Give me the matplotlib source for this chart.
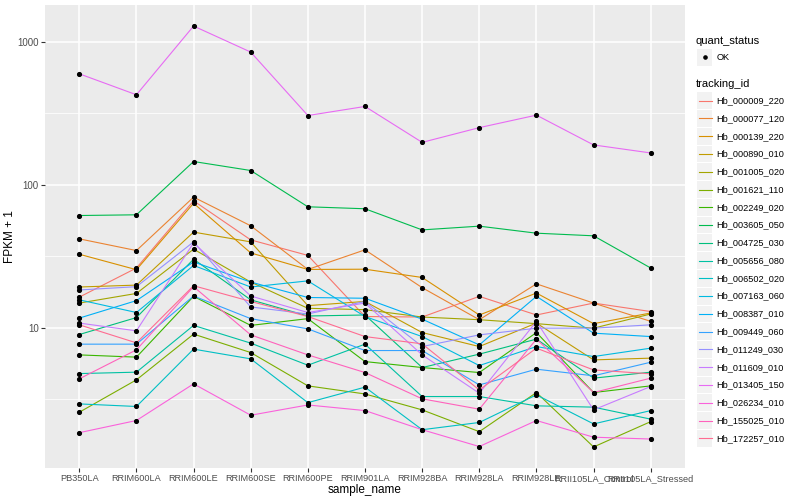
import numpy as np
import matplotlib.pyplot as plt
from matplotlib.patches import Rectangle
from matplotlib.lines import Line2D

plt.rcParams['font.family'] = ['Liberation Sans', 'DejaVu Sans']

# categories on the x axis
samples = ['PB350LA', 'RRIM600LA', 'RRIM600LE', 'RRIM600SE', 'RRIM600PE',
           'RRIM901LA', 'RRIM928BA', 'RRIM928LA', 'RRIM928LE',
           'RRII105LA_Control', 'RRII105LA_Stressed']

tracking_ids = ['Hb_000009_220', 'Hb_000077_120', 'Hb_000139_220', 'Hb_000890_010',
                'Hb_001005_020', 'Hb_001621_110', 'Hb_002249_020', 'Hb_003605_050',
                'Hb_004725_030', 'Hb_005656_080', 'Hb_006502_020', 'Hb_007163_060',
                'Hb_008387_010', 'Hb_009449_060', 'Hb_011249_030', 'Hb_011609_010',
                'Hb_013405_150', 'Hb_026234_010', 'Hb_155025_010', 'Hb_172257_010']

# FPKM + 1 per gene, one value per sample
hb_000009_220 = [16.4, 26.2, 77.3, 41.2, 32.1, 12.0, 11.9, 16.6, 12.3, 14.9, 13.0]
hb_000077_120 = [41.9, 34.7, 82.0, 51.7, 25.6, 35.1, 19.1, 11.4, 20.3, 14.9, 11.1]
hb_000139_220 = [32.7, 25.5, 74.3, 33.4, 25.6, 25.7, 22.5, 12.3, 17.5, 10.7, 12.7]
hb_000890_010 = [19.3, 19.9, 46.7, 39.9, 14.3, 15.3, 9.27, 7.40, 10.8, 5.97, 6.14]
hb_001005_020 = [14.9, 17.4, 35.5, 20.9, 13.7, 13.4, 11.9, 11.4, 10.7, 9.95, 12.5]
hb_001621_110 = [2.57, 4.33, 9.04, 6.72, 3.93, 3.45, 2.67, 1.88, 3.53, 1.47, 2.21]
hb_002249_020 = [6.47, 6.24, 16.6, 10.4, 11.6, 5.81, 5.28, 4.87, 9.27, 3.53, 3.93]
hb_003605_050 = [61.0, 61.7, 145.5, 125.9, 70.2, 68.0, 48.4, 51.4, 45.9, 44.0, 26.2]
hb_004725_030 = [8.98, 11.8, 30.2, 15.7, 12.1, 12.3, 5.28, 6.55, 8.34, 4.45, 4.90]
hb_005656_080 = [4.79, 4.90, 10.4, 7.82, 5.48, 7.69, 3.31, 3.31, 2.85, 2.79, 2.30]
hb_006502_020 = [2.94, 2.82, 7.10, 6.07, 3.00, 3.85, 1.94, 2.18, 3.40, 2.13, 2.64]
hb_007163_060 = [15.7, 12.8, 27.3, 19.3, 21.3, 12.0, 8.69, 5.45, 7.40, 6.30, 7.21]
hb_008387_010 = [11.7, 15.5, 28.9, 20.9, 16.3, 16.1, 11.5, 7.60, 16.6, 9.18, 8.69]
hb_009449_060 = [7.69, 7.69, 16.7, 11.6, 9.84, 6.94, 6.94, 3.99, 5.14, 4.62, 5.75]
hb_011249_030 = [18.4, 19.4, 39.9, 14.0, 12.5, 15.3, 7.40, 8.93, 9.95, 9.95, 10.5]
hb_011609_010 = [10.8, 9.53, 39.3, 16.7, 12.8, 14.9, 6.47, 3.49, 11.1, 2.67, 3.89]
hb_013405_150 = [597, 426, 1288, 847, 305, 353, 198, 251, 307, 190, 167]
hb_026234_010 = [1.85, 2.25, 4.06, 2.45, 2.89, 2.64, 1.94, 1.48, 2.25, 1.72, 1.67]
hb_155025_010 = [4.40, 7.02, 19.4, 8.93, 6.47, 4.87, 3.19, 2.70, 8.34, 3.53, 4.45]
hb_172257_010 = [10.5, 7.85, 19.7, 15.3, 12.0, 8.69, 7.73, 3.68, 7.21, 5.08, 4.77]

series = [hb_000009_220, hb_000077_120, hb_000139_220, hb_000890_010, hb_001005_020,
          hb_001621_110, hb_002249_020, hb_003605_050, hb_004725_030, hb_005656_080,
          hb_006502_020, hb_007163_060, hb_008387_010, hb_009449_060, hb_011249_030,
          hb_011609_010, hb_013405_150, hb_026234_010, hb_155025_010, hb_172257_010]

# ggplot default hue palette, 20 levels
colors = ['#F8766D', '#EA8331', '#D89000', '#C09B00', '#A3A500', '#7CAE00', '#39B600',
          '#00BB4E', '#00BF7D', '#00C1A3', '#00BFC4', '#00BAE0', '#00B0F6', '#35A2FF',
          '#9590FF', '#C77CFF', '#E76BF3', '#FA62DB', '#FF62BC', '#FF6C91']

W, H = 800, 500
fig = plt.figure(figsize=(W / 100, H / 100), dpi=100)
ax = fig.add_axes([45 / W, 1 - 468 / H, (685 - 45) / W, (468 - 5) / H])
ax.set_facecolor('#EBEBEB')

x = np.arange(len(samples))
for vals, c in zip(series, colors):
    ax.plot(x, vals, color=c, lw=0.8, zorder=3)
for vals in series:
    ax.plot(x, vals, 'o', color='black', ms=2.7, zorder=4)

ax.set_yscale('log')
allv = np.log10(np.concatenate([np.array(s, float) for s in series]))
pad = 0.05 * (allv.max() - allv.min())
ax.set_ylim(10 ** (allv.min() - pad), 10 ** (allv.max() + pad))
ax.set_xlim(-0.6, len(samples) - 0.4)

ax.set_yticks([10, 100, 1000])
ax.set_yticklabels(['10', '100', '1000'])
ax.yaxis.set_minor_locator(plt.FixedLocator([10 ** 0.5, 10 ** 1.5, 10 ** 2.5]))
ax.yaxis.set_minor_formatter(plt.NullFormatter())
ax.set_xticks(x)
ax.set_xticklabels(samples)

ax.grid(which='major', color='white', lw=1.1, zorder=0)
ax.grid(which='minor', axis='y', color='white', lw=0.55, zorder=0)
ax.set_axisbelow(True)
for s in ax.spines.values():
    s.set_visible(False)

ax.tick_params(which='major', length=3, width=0.8, color='#333333',
               labelsize=7, labelcolor='#4D4D4D', pad=1.5)
ax.tick_params(axis='x', labelsize=6.6)
ax.tick_params(which='minor', length=0)
ax.set_xlabel('sample_name', fontsize=8.5, labelpad=0.5)
ax.set_ylabel('FPKM + 1', fontsize=8.5, labelpad=1)

# legends, drawn by hand in ggplot style
def fx(px):
    return px / W

def fy(py):
    return 1 - py / H

fig.text(fx(696), fy(41), 'quant_status', fontsize=8, va='center', ha='left')
fig.add_artist(Rectangle((fx(697), fy(65.5)), 15.4 / W, 16.8 / H,
                         facecolor='#F2F2F2', edgecolor='none', transform=fig.transFigure))
fig.add_artist(Line2D([fx(705)], [fy(57)], marker='o', color='black', ms=2.3,
                      transform=fig.transFigure))
fig.text(fx(716.5), fy(57), 'OK', fontsize=6.6, va='center', ha='left')

fig.text(fx(696), fy(84), 'tracking_id', fontsize=8, va='center', ha='left')
for i, (tid, c) in enumerate(zip(tracking_ids, colors)):
    cy = 100.7 + i * 17.77
    fig.add_artist(Rectangle((fx(697), fy(cy + 8.4)), 15.4 / W, 16.8 / H,
                             facecolor='#F2F2F2', edgecolor='none', transform=fig.transFigure))
    fig.add_artist(Line2D([fx(698.5), fx(711.5)], [fy(cy), fy(cy)], color=c, lw=0.8,
                          transform=fig.transFigure))
    fig.text(fx(716.5), fy(cy), tid, fontsize=6.6, va='center', ha='left')

fig.savefig('out.png', dpi=100)
